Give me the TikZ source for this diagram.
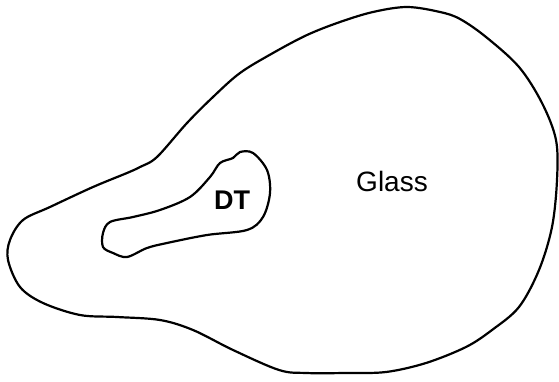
\documentclass[tikz,border=0pt]{standalone}
\usepackage{fontspec}
\setmainfont{Liberation Sans}
\begin{document}
\begin{tikzpicture}[x=1pt,y=-1pt,
  outline/.style={draw=black,line width=2.2pt,line join=round},
  lbl/.style={font=\fontsize{28}{30}\selectfont}]
\useasboundingbox (0,0) rectangle (559,382);
\draw[outline] plot[smooth cycle,tension=0.55] coordinates {
 (273,53) (240,73) (213,97) (187,123) (157,157) (140,167) (127,173) (93,187)
 (50,207) (23,220) (10,240) (8,260) (20,287) (43,303) (80,315) (117,317)
 (160,320) (193,330) (233,350) (279,370) (306,373) (346,373) (386,372)
 (426,363) (466,347) (492,330) (519,307) (539,270) (552,227) (557,180)
 (556,140) (542,103) (519,67) (486,37) (460,19) (440,12) (407,7) (373,12) (340,22) (307,35)};
\draw[outline] plot[smooth cycle,tension=0.55] coordinates {
 (240,152) (253,153) (267,170) (270,193) (263,217) (247,230) (207,235)
 (167,243) (147,248) (127,257) (113,253) (103,247) (103,233) (110,222)
 (133,217) (160,210) (190,197) (210,177) (220,163) (233,158)};
\node[lbl,font=\fontsize{27}{29}\selectfont\bfseries] (dt) at (232,200) {DT};
\node[lbl] (glass) at (392,181) {Glass};
\end{tikzpicture}
\end{document}
